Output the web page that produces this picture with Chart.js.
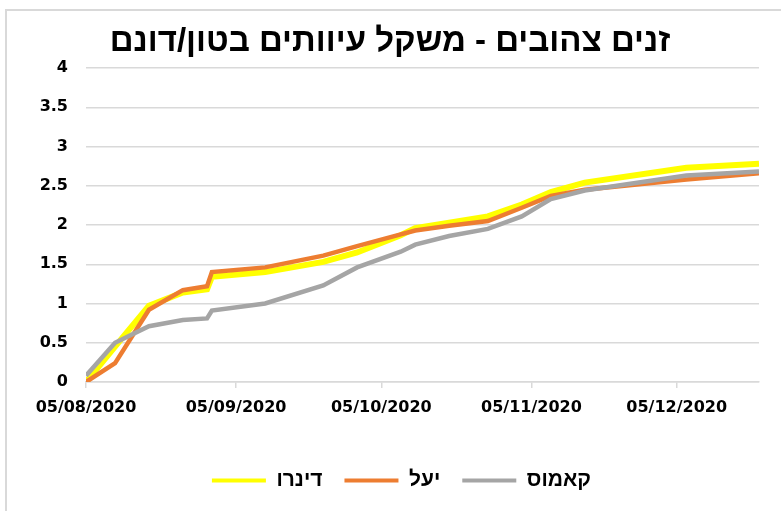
<!DOCTYPE html>
<html>
<head>
<meta charset="utf-8">
<script src="https://cdn.jsdelivr.net/npm/chart.js@4.4.0/dist/chart.umd.min.js"></script>
<style>
  body { margin: 0; background: #fff; overflow: hidden; }
  #wrap { position: relative; width: 781px; height: 511px; }
  #frame { position: absolute; left: 5px; top: 9px; width: 800px; height: 600px;
           border-left: 2px solid #d9d9d9; border-top: 2px solid #d9d9d9; }
  #grafico { position: absolute; left: 0; top: 0; }
</style>
</head>
<body>
<div id="wrap">
  <div id="frame"></div>
  <canvas id="grafico" width="781" height="511"></canvas>
</div>
<script>
/* *****
datos (dias desde 05/08/2020)
***** */
const dias = [0, 6, 13, 20, 25, 26, 37, 49, 56, 65, 68, 75, 83, 90, 96, 103, 124, 139];
const dinaro = [0, 0.45, 0.97, 1.14, 1.18, 1.34, 1.40, 1.53, 1.65, 1.87, 1.96, 2.03, 2.11, 2.26, 2.42, 2.54, 2.73, 2.78];
const yael = [0, 0.24, 0.92, 1.17, 1.22, 1.40, 1.46, 1.61, 1.73, 1.88, 1.93, 1.99, 2.05, 2.22, 2.37, 2.45, 2.58, 2.66];
const kamus = [0.08, 0.50, 0.71, 0.79, 0.81, 0.91, 1.00, 1.23, 1.46, 1.66, 1.75, 1.86, 1.95, 2.11, 2.33, 2.44, 2.63, 2.68];

const tickDias = [0, 31, 61, 92, 122];
const tickLabels = ['05/08/2020', '05/09/2020', '05/10/2020', '05/11/2020', '05/12/2020'];
const titulo = 'זנים צהובים - משקל עיוותים בטון/דונם';

const toPoints = (serie) => dias.map((d, i) => ({ x: d, y: serie[i] }));

const fuente = "'DejaVu Sans', sans-serif";
const fuenteHeb = "'Liberation Sans', sans-serif";

const newDataset = (label, data, color, width, order) => ({
    label: label,
    data: toPoints(data),
    borderColor: color,
    backgroundColor: color,
    borderWidth: width,
    pointRadius: 0,
    pointStyle: 'line',
    tension: 0,
    order: order
});

//titulo dibujado a mano para ubicarlo igual que el original
const tituloPlugin = {
    id: 'tituloPlugin',
    afterLayout: (chart) => {
        //corre la leyenda un poco a la derecha, como en el original
        chart.legend.left += 22;
        chart.legend.right += 22;
    },
    afterDraw: (chart) => {
        const ctx = chart.ctx;
        ctx.save();
        ctx.fillStyle = '#000';
        ctx.font = `bold 33px ${fuenteHeb}`;
        ctx.textAlign = 'center';
        ctx.textBaseline = 'middle';
        ctx.fillText(titulo, 390, 42);
        ctx.restore();
    }
};

const config = {
    type: 'line',
    data: {
        datasets: [
            newDataset('דינרו', dinaro, '#FFFF00', 6, 2),
            newDataset('יעל', yael, '#ED7D31', 4.5, 1),
            newDataset('קאמוס', kamus, '#A5A5A5', 4.5, 0)
        ]
    },
    options: {
        responsive: false,
        animation: false,
        devicePixelRatio: 1,
        layout: { padding: { top: 68, right: 22, left: 0, bottom: 10 } },
        plugins: {
            title: { display: false },
            legend: {
                position: 'bottom',
                labels: {
                    usePointStyle: true,
                    pointStyleWidth: 54,
                    boxHeight: 4,
                    padding: 22,
                    color: '#000',
                    font: { family: fuenteHeb, size: 21, weight: 'bold' },
                    sort: (a, b) => a.datasetIndex - b.datasetIndex,
                    generateLabels: (chart) => {
                        const items = Chart.defaults.plugins.legend.labels.generateLabels(chart);
                        items.forEach((it) => { it.lineWidth = 4; });
                        return items;
                    }
                }
            },
            tooltip: { enabled: false }
        },
        scales: {
            x: {
                type: 'linear',
                min: 0,
                max: 139,
                afterBuildTicks: (scale) => {
                    scale.ticks = tickDias.map((v) => ({ value: v }));
                },
                afterFit: (scale) => { scale.height = 66; },
                ticks: {
                    autoSkip: false,
                    maxRotation: 0,
                    padding: 10,
                    color: '#000',
                    font: { family: fuente, size: 16, weight: 'bold' },
                    callback: (v, i) => tickLabels[i]
                },
                grid: {
                    drawOnChartArea: false,
                    drawTicks: true,
                    tickLength: 6,
                    color: '#d9d9d9',
                    lineWidth: 1.5
                },
                border: { display: true, color: '#d9d9d9', width: 1.5 }
            },
            y: {
                min: 0,
                max: 4,
                afterFit: (scale) => { scale.width = 86; },
                ticks: {
                    stepSize: 0.5,
                    padding: 18,
                    color: '#000',
                    font: { family: fuente, size: 16, weight: 'bold' },
                    callback: (v) => String(v)
                },
                grid: {
                    drawTicks: false,
                    color: '#d9d9d9',
                    lineWidth: 1.5
                },
                border: { display: false }
            }
        }
    },
    plugins: [tituloPlugin]
};

const mychart = new Chart(document.getElementById('grafico'), config);
</script>
</body>
</html>
